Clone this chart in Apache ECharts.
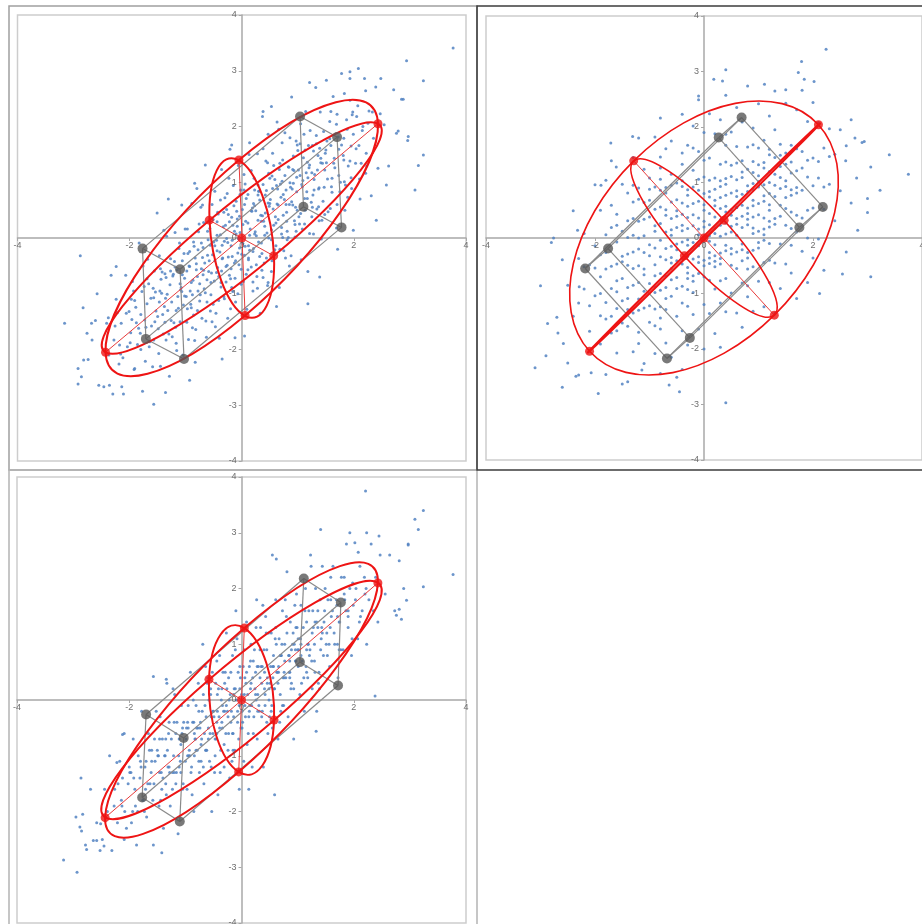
<!DOCTYPE html>
<html><head><meta charset="utf-8">
<script src="https://cdn.jsdelivr.net/npm/echarts@6/dist/echarts.min.js"></script>
<style>html,body{margin:0;padding:0;background:#fff}#c{width:922px;height:924px}</style>
</head><body><div id="c"></div>
<script>
// ---- shared topology & tick labels ----
const cubeEdges = [[0,2],[1,3],[4,6],[5,7],[0,1],[2,3],[4,5],[6,7],[0,4],[1,5],[2,6],[3,7]];
const ellipsePairs = [[0,2],[1,2],[0,1]]; // (a,c), (b,c), (a,b)
const xTickValues = [-4,-2,0,2,4];
const yTickValues = [-4,-3,-2,-1,0,1,2,3,4];

// ---- panel 1 (top-left) ----
const p1Center = [0,0];
const p1Vertices = [[1.04,2.18],[1.70,1.81],[1.10,0.56],[1.78,0.19],[-1.77,-0.19],[-1.10,-0.56],[-1.71,-1.81],[-1.03,-2.17]];
const p1AxisEnds = [[[-0.05,1.40],[0.06,-1.39]],[[-0.58,0.32],[0.57,-0.32]],[[-2.43,-2.05],[2.43,2.05]]];
const p1Dots = [[-2.92,-2.62],[-2.61,-1.48],[-2.74,-2.18],[-2.55,-2.64],[-2.83,-1.25],[-2.67,-1.83],
[-2.46,-2.67],[-2.41,-1.53],[-2.37,-2.10],[-2.33,-0.67],[-2.28,-1.83],[-2.24,-1.10],[-2.19,-2.26],[-2.15,-1.53],[-2.11,-2.80],[-2.07,-0.67],[-2.04,-1.95],[-2.22,-1.34],
[-1.98,-1.70],[-1.95,-0.78],[-1.92,-2.36],[-1.89,-1.24],[-1.86,-1.91],[-1.83,-0.09],[-1.80,-1.37],[-1.77,-2.75],[-1.74,-0.87],[-1.71,-1.60],[-1.68,-0.38],[-1.65,-1.95],[-1.62,-1.08],[-1.59,-2.31],[-1.56,-0.59],[-1.53,-1.31],[-1.51,0.45],[-1.97,-1.10],[-1.72,-2.21],[-1.58,-0.90],
[-1.49,-1.63],[-1.47,-0.32],[-1.45,-2.30],[-1.43,-0.99],[-1.41,-1.37],[-1.39,0.14],[-1.37,-0.64],[-1.35,-1.83],[-1.33,-1.01],[-1.31,0.70],[-1.29,-2.48],[-1.27,-0.37],[-1.25,-1.15],[-1.23,-0.68],[-1.21,-1.52],[-1.19,0.10],[-1.17,-1.89],[-1.15,-0.57],[-1.13,-1.26],[-1.11,-0.09],[-1.09,-0.93],[-1.07,0.59],[-1.05,-2.10],[-1.03,-0.28],[-1.44,-0.74],[-1.36,-1.08],[-1.18,-1.60],[-1.06,-0.66],
[-0.99,-1.05],[-0.97,0.16],[-0.95,-1.82],[-0.93,-0.51],[-0.91,-1.19],[-0.89,0.62],[-0.87,-0.76],[-0.85,-0.15],[-0.83,-2.23],[-0.81,-0.57],[-0.79,-1.30],[-0.77,0.11],[-0.75,-0.82],[-0.73,0.55],[-0.71,-1.44],[-0.69,-0.17],[-0.67,-0.91],[-0.65,1.31],[-0.63,-1.78],[-0.61,-0.31],[-0.59,-0.60],[-0.57,0.17],[-0.55,-1.02],[-0.53,0.60],[-0.51,-1.19],[-0.96,-0.28],[-0.88,-1.02],[-0.80,0.89],[-0.72,-0.55],[-0.64,-1.49],[-0.56,-0.13],[-0.68,0.28],[-0.84,-1.84],[-0.52,-0.30],
[-0.49,-0.77],[-0.48,0.84],[-0.46,-1.35],[-0.45,-0.04],[-0.43,-0.53],[-0.42,0.43],[-0.40,-1.80],[-0.39,-0.25],[-0.37,-0.88],[-0.36,1.23],[-0.34,-0.36],[-0.33,0.20],[-0.31,-1.09],[-0.30,0.72],[-0.28,-0.51],[-0.27,-0.01],[-0.25,-1.44],[-0.24,0.42],[-0.22,-0.67],[-0.21,1.59],[-0.19,-0.14],[-0.18,-0.89],[-0.16,0.23],[-0.15,0.94],[-0.13,-0.45],[-0.12,-1.79],[-0.10,0.07],[-0.09,0.48],[-0.07,-1.00],[-0.06,1.30],[-0.04,-0.18],[-0.03,0.78],[-0.01,-0.56],[-0.44,-0.23],[-0.35,-2.17],[-0.26,0.80],[-0.17,-0.33],[-0.08,0.34],
[0.01,0.51],[0.03,-0.78],[0.04,1.14],[0.06,-0.15],[0.07,0.30],[0.09,-1.28],[0.11,0.78],[0.12,-0.36],[0.14,1.71],[0.15,0.16],[0.17,-0.52],[0.19,0.54],[0.20,-0.95],[0.22,1.07],[0.23,0.07],[0.25,0.49],[0.27,-0.69],[0.28,1.51],[0.30,-0.07],[0.31,0.84],[0.33,-1.35],[0.34,0.41],[0.36,-0.28],[0.37,2.18],[0.39,0.30],[0.40,-0.45],[0.42,0.77],[0.43,1.38],[0.45,0.09],[0.46,-0.85],[0.48,1.16],[0.49,0.57],[0.05,-1.76],[0.13,1.50],[0.21,-0.19],[0.29,0.77],[0.38,-0.71],[0.47,1.86],
[0.51,0.69],[0.53,-0.60],[0.55,1.52],[0.57,0.23],[0.59,1.05],[0.61,-0.14],[0.63,2.08],[0.65,0.59],[0.67,-0.89],[0.69,0.97],[0.71,0.19],[0.73,1.40],[0.75,-0.23],[0.77,1.89],[0.79,0.60],[0.81,0.12],[0.83,1.28],[0.85,-0.50],[0.87,0.91],[0.89,2.53],[0.91,0.59],[0.93,1.21],[0.95,0.02],[0.97,1.74],[0.99,0.50],[0.54,1.11],[0.62,-1.23],[0.70,0.73],[0.78,-0.36],[0.86,1.80],[0.94,0.31],[0.66,1.95],[0.74,0.41],[0.98,1.09],
[1.02,0.38],[1.04,1.69],[1.06,-0.39],[1.08,0.92],[1.10,1.44],[1.12,0.25],[1.14,2.27],[1.16,0.83],[1.18,-0.60],[1.20,1.26],[1.22,1.93],[1.24,0.64],[1.26,1.66],[1.28,0.07],[1.30,1.14],[1.32,2.70],[1.34,0.52],[1.36,1.48],[1.38,0.90],[1.40,2.26],[1.42,-0.02],[1.44,1.34],[1.46,1.91],[1.48,0.42],[1.15,1.17],[1.27,0.77],[1.39,1.61],[1.05,2.05],
[1.51,1.35],[1.54,0.47],[1.57,2.09],[1.60,0.92],[1.63,2.54],[1.66,1.26],[1.69,0.18],[1.72,1.81],[1.75,0.83],[1.78,2.95],[1.81,1.48],[1.84,0.50],[1.87,2.12],[1.90,1.29],[1.93,2.47],[1.96,0.89],[1.99,1.86],[1.59,1.66],[1.71,-0.20],[1.83,2.59],
[2.03,1.34],[2.07,2.37],[2.11,0.70],[2.15,1.93],[2.19,2.86],[2.23,1.29],[2.27,2.28],[2.31,0.76],[2.35,1.79],[2.39,2.71],[2.43,1.25],[2.47,2.23],
[2.54,2.03],[2.62,1.29],[2.71,2.66],[2.79,1.92],[2.88,2.49],[2.96,1.75],
[3.77,3.41],[2.94,3.18],[3.24,2.82],[2.08,3.04],[1.93,2.98],[1.93,2.86],[1.51,2.83],[1.21,2.79],[2.48,2.86],[2.85,2.49],[2.21,2.64],[2.97,1.82],[3.24,1.49],[3.15,1.30],[3.09,0.86],[2.76,1.88],[2.58,0.95],[2.40,0.32],[1.99,0.14],[1.39,-0.70],[1.18,-1.18],[0.38,2.27],[0.53,2.36],[-0.18,1.67],[-0.84,0.98],[-2.88,-0.32],[-2.24,-0.51],[-2.58,-1.0],[-3.16,-1.53],[-2.68,-1.53],[-2.76,-1.71],[-2.92,-2.34],[-2.86,-2.49],[-2.36,-2.64],[-2.30,-2.80],[-2.14,-2.67],[-1.57,-2.98],[-1.36,-2.77],[-0.93,-2.55],[-1.91,-2.34],[-2.82,-2.19]];
const p1DotsCore = [[-1.93,-0.95],[-1.81,-1.71],[-1.76,-0.50],[-1.64,-1.86],[-1.57,-1.07],[-1.48,-2.07],[-1.42,-0.61],[-1.38,-1.23],[-1.34,0.03],[-1.26,-1.48],[-1.22,-0.65],[-1.16,-2.02],[-1.12,-0.19],[-1.08,-0.89],[-1.04,-1.20],[-1.01,0.16],[-0.98,-1.51],[-0.94,-0.50],[-0.92,-0.95],[-0.86,-0.07],[-0.82,-1.64],[-0.78,-0.21],[-0.74,-1.02],[-0.70,0.59],[-0.66,-0.45],[-0.62,-1.15],[-0.58,0.30],[-0.54,-0.63],[-0.50,-0.07],[-0.47,-1.59],[-0.44,0.29],[-0.41,-0.69],[-0.38,0.68],[-0.35,-0.13],[-0.32,-1.05],[-0.29,0.23],[-0.26,-0.49],[-0.23,1.07],[-0.20,-0.73],[-0.17,-0.04],[-0.14,0.58],[-0.11,-1.15],[-0.08,0.21],[-0.05,-0.48],[-0.02,0.86],[0.02,-0.10],[0.05,0.60],[0.08,-0.65],[0.11,0.27],[0.14,-0.22],[0.17,1.21],[0.20,-0.79],[0.23,0.58],[0.26,0.04],[0.29,0.95],[0.32,-0.33],[0.35,0.30],[0.38,1.60],[0.41,0.05],[0.44,0.85],[0.47,-0.80],[0.50,0.62],[0.53,-0.03],[0.57,1.30],[0.60,0.38],[0.64,0.88],[0.68,-0.20],[0.72,1.71],[0.76,0.69],[0.80,0.30],[0.84,1.27],[0.88,-0.32],[0.92,0.98],[0.96,0.55],[1.00,1.57],[1.03,0.25],[1.07,0.96],[1.11,1.86],[1.13,0.50],[1.17,1.36],[1.21,0.08],[1.25,1.17],[1.29,0.86],[1.33,1.69],[1.37,0.56],[1.41,1.43],[1.47,0.91],[1.52,1.74],[1.58,0.53],[1.64,1.34],[1.70,2.22],[1.76,1.00],[1.82,1.79],[1.89,0.73],[1.95,1.65],[2.05,2.18],[2.13,1.34],[2.25,2.06],
[-2.38,-1.43],[-2.16,-2.08],[-2.01,-1.32],[-1.88,-1.52],[-1.69,-0.73],[-1.55,-1.50],[-1.46,-0.95],[-1.30,-1.72],[-1.20,-0.42],[-1.10,-0.82],[-1.02,-1.04],[-0.90,-1.25],[-0.81,-0.46],[-0.76,0.25],[-0.69,-0.66],[-0.60,-0.03],[-0.56,-1.31],[-0.48,-0.41],[-0.43,0.46],[-0.37,-0.80],[-0.31,-0.06],[-0.24,-0.34],[-0.18,0.37],[-0.12,-0.72],[-0.06,-0.01],[0.00,-0.29],[0.06,0.97],[0.12,-0.39],[0.18,0.48],[0.24,0.11],[0.30,0.84],[0.36,-0.58],[0.42,0.45],[0.48,0.00],[0.55,0.89],[0.61,0.27],[0.67,1.23],[0.73,0.01],[0.79,0.86],[0.85,0.60],[0.91,1.23],[0.97,0.12],[1.04,1.12],[1.12,0.71],[1.19,1.66],[1.26,0.55],[1.35,1.22],[1.43,0.32],[1.50,1.58],[1.61,1.07],[1.73,1.59],[1.85,0.95],[1.97,2.21],[2.09,1.66],[2.21,1.16],[2.33,2.26]];
const p1DotsBand = [[-2.18,-1.92],[-2.06,-1.35],[-1.99,-1.88],[-1.91,-1.12],[-1.84,-1.62],[-1.78,-0.96],[-1.73,-1.47],[-1.66,-0.82],[-1.61,-1.58],[-1.54,-0.97],[-1.50,-1.41],[-1.45,-0.55],[-1.40,-1.72],[-1.35,-0.71],[-1.32,-1.30],[-1.28,-0.84],[-1.24,-1.77],[-1.19,-0.52],[-1.14,-1.05],[-1.10,-1.50],[-1.06,-0.41],[-1.02,-0.72],[-0.97,-1.27],[-0.93,-0.24],[-0.90,-0.80],[-0.86,-1.38],[-0.83,-0.36],[-0.79,-0.69],[-0.75,-1.13],[-0.72,-0.09],[-0.68,-0.58],[-0.65,-0.98],[-0.61,0.12],[-0.58,-0.41],[-0.55,-0.80],[-0.51,0.33],[-0.48,-0.14],[-0.45,-0.62],[-0.41,-1.12],[-0.38,0.06],[-0.35,-0.37],[-0.32,0.46],[-0.28,-0.79],[-0.25,-0.08],[-0.22,0.29],[-0.19,-0.55],[-0.16,-0.96],[-0.13,0.12],[-0.10,0.66],[-0.07,-0.27],[-0.04,0.39],[-0.01,-0.83],[0.02,0.24],[0.05,-0.31],[0.08,0.71],[0.11,-0.57],[0.14,0.05],[0.17,0.49],[0.20,-0.24],[0.23,0.86],[0.26,-0.48],[0.29,0.32],[0.32,0.68],[0.35,-0.09],[0.38,0.96],[0.41,0.21],[0.44,-0.36],[0.47,0.63],[0.50,1.07],[0.53,0.15],[0.56,0.52],[0.59,-0.21],[0.62,0.94],[0.65,0.33],[0.68,1.34],[0.71,0.07],[0.74,0.78],[0.77,1.12],[0.80,0.46],[0.83,0.01],[0.86,0.99],[0.89,0.65],[0.92,1.47],[0.95,0.24],[0.98,0.83],[1.01,1.22],[1.05,0.44],[1.09,1.03],[1.13,1.58],[1.17,0.71],[1.21,1.31],[1.25,0.38],[1.29,1.05],[1.33,1.84],[1.37,0.88],[1.41,1.35],[1.45,0.66],[1.49,1.52],[1.53,1.06],[1.57,1.78],[1.61,0.82],[1.65,1.43],[1.69,2.04],[1.73,1.12],[1.78,1.67],[1.83,1.01],[1.88,1.95],[1.93,1.38],[1.98,2.26],[2.04,1.60],[2.10,1.06],[2.16,2.00],[2.22,1.52],[-2.26,-1.58],[-2.12,-2.15],[-1.96,-1.46],[-1.80,-2.00],[-1.69,-1.18],[-1.57,-1.83],[-1.47,-1.15],[-1.37,-1.51],[-1.27,-0.59],[-1.17,-1.30],[-1.07,-0.96],[-0.98,-0.59],[-0.88,-1.61],[-0.78,-0.95],[-0.70,-0.35],[-0.62,-0.75],[-0.53,-1.50],[-0.44,0.05],[-0.36,-0.59],[-0.27,0.51],[-0.20,-1.27],[-0.11,-0.41],[-0.03,0.10],[0.04,0.86],[0.12,-0.14],[0.21,0.62],[0.28,-0.90],[0.37,0.40],[0.46,1.35],[0.54,-0.41],[0.63,0.61],[0.72,1.02],[0.81,-0.03],[0.90,0.88],[0.99,1.67],[1.08,0.16],[1.18,1.08],[1.28,1.56],[1.38,0.31],[1.48,1.22],[1.59,2.27],[1.70,0.60],[1.82,1.40],[1.95,1.08]];

// ---- panel 2 (top-right) ----
const p2Center = [0,0];
const p2Vertices = [[0.27,1.81],[0.69,2.17],[1.75,0.19],[2.18,0.56],[-2.18,-0.55],[-1.76,-0.19],[-0.68,-2.17],[-0.26,-1.80]];
const p2AxisEnds = [[[-1.29,1.39],[1.29,-1.39]],[[-0.36,-0.32],[0.37,0.32]],[[-2.10,-2.04],[2.10,2.04]]];
const p2Dots = [[-3.0,-0.86],[-2.9,-2.12],[-2.8,-0.08],[-2.7,-1.43],[-2.6,-0.39],[-2.6,-2.69],
[-2.5,-0.85],[-2.5,-2.25],[-2.4,0.49],[-2.4,-1.41],[-2.3,-0.37],[-2.3,-2.47],[-2.2,-0.92],[-2.2,0.08],[-2.1,-1.68],[-2.1,-0.48],[-2.0,-1.04],[-2.0,0.96],
[-1.9,-0.30],[-1.9,-1.91],[-1.9,0.50],[-1.8,-1.16],[-1.8,-0.56],[-1.8,-2.46],[-1.7,0.19],[-1.7,-1.41],[-1.7,1.39],[-1.6,-0.77],[-1.6,-0.07],[-1.6,-2.07],[-1.5,0.97],[-1.5,-1.13],[-1.5,-0.33],[-1.9,-1.00],[-1.8,1.04],[-1.7,-1.71],[-1.6,0.43],[-1.5,-2.63],
[-1.4,-0.49],[-1.4,-1.59],[-1.4,0.81],[-1.4,0.01],[-1.4,-2.59],[-1.3,-0.85],[-1.3,0.35],[-1.3,-2.05],[-1.3,1.45],[-1.3,-0.25],[-1.2,-1.10],[-1.2,0.70],[-1.2,-0.50],[-1.2,-1.70],[-1.2,1.80],[-1.1,0.04],[-1.1,-1.26],[-1.1,1.24],[-1.1,-0.66],[-1.1,-2.26],[-1.0,0.38],[-1.0,-0.82],[-1.0,0.68],[-1.0,-1.52],[-1.4,-1.09],[-1.3,0.95],[-1.2,0.00],[-1.1,-0.26],
[-0.9,-0.18],[-0.9,-1.28],[-0.9,0.92],[-0.9,-2.08],[-0.9,0.22],[-0.9,1.82],[-0.9,-0.68],[-0.8,0.56],[-0.8,-0.94],[-0.8,1.26],[-0.8,-1.64],[-0.8,-0.34],[-0.8,2.16],[-0.8,-2.44],[-0.7,0.11],[-0.7,-1.29],[-0.7,0.81],[-0.7,-0.69],[-0.7,1.61],[-0.7,-1.89],[-0.7,0.41],[-0.6,-0.45],[-0.6,1.15],[-0.6,-1.05],[-0.6,0.05],[-0.6,-2.15],[-0.6,1.75],[-0.6,0.65],[-0.5,-0.71],[-0.5,0.99],[-0.5,-1.41],[-0.5,-0.11],[-0.5,0.39],[-0.5,-2.51],
[-0.4,0.13],[-0.4,-0.87],[-0.4,1.33],[-0.4,-1.67],[-0.4,0.63],[-0.4,2.23],[-0.4,-0.37],[-0.4,-2.37],[-0.3,0.87],[-0.3,-1.23],[-0.3,-0.03],[-0.3,1.67],[-0.3,-0.63],[-0.3,0.37],[-0.3,-1.93],[-0.2,1.22],[-0.2,-0.38],[-0.2,0.62],[-0.2,-1.38],[-0.2,2.02],[-0.2,-0.08],[-0.2,-0.98],[-0.1,0.36],[-0.1,-0.64],[-0.1,1.56],[-0.1,-1.64],[-0.1,0.86],[-0.1,-0.14],[-0.1,2.56],[0.0,-0.40],[0.0,1.10],[0.0,-1.20],[0.0,0.20],[0.0,-2.00],[0.0,1.90],[-0.4,0.93],[-0.3,-0.93],[-0.2,1.62],
[0.1,-0.26],[0.1,0.74],[0.1,-1.36],[0.1,1.44],[0.1,0.04],[0.1,-0.76],[0.1,2.24],[0.2,0.58],[0.2,-0.92],[0.2,1.08],[0.2,-0.12],[0.2,1.88],[0.2,-1.72],[0.2,0.38],[0.3,-0.47],[0.3,1.33],[0.3,0.23],[0.3,-1.17],[0.3,2.13],[0.3,0.93],[0.3,0.03],[0.3,-1.97],[0.4,0.57],[0.4,-0.73],[0.4,1.67],[0.4,-0.23],[0.4,1.07],[0.4,-1.33],[0.4,2.57],[0.5,0.21],[0.5,1.31],[0.5,-0.49],[0.5,0.81],[0.5,-0.99],[0.5,1.91],[0.1,1.04],[0.2,-0.52],[0.4,0.27],
[0.6,0.55],[0.6,-0.55],[0.6,1.65],[0.6,-1.35],[0.6,1.05],[0.6,0.05],[0.6,2.35],[0.7,0.79],[0.7,-0.81],[0.7,1.39],[0.7,-0.11],[0.7,2.09],[0.7,-1.61],[0.7,0.39],[0.8,-0.26],[0.8,1.64],[0.8,0.54],[0.8,-1.06],[0.8,1.24],[0.8,2.74],[0.8,0.24],[0.9,0.98],[0.9,-0.52],[0.9,1.98],[0.9,0.08],[0.9,1.38],[0.9,-1.32],[0.9,0.68],[1.0,-0.08],[1.0,1.62],[1.0,0.42],[1.0,-0.78],[1.0,2.42],[1.0,1.12],
[1.1,0.66],[1.1,-0.44],[1.1,1.76],[1.1,0.16],[1.1,1.26],[1.1,-1.24],[1.2,1.00],[1.2,-0.10],[1.2,2.20],[1.2,-0.80],[1.2,0.50],[1.2,1.50],[1.3,0.35],[1.3,1.95],[1.3,-0.45],[1.3,1.15],[1.3,-1.35],[1.3,2.65],[1.4,0.89],[1.4,-0.11],[1.4,1.69],[1.4,-0.91],[1.4,1.49],[1.5,0.23],[1.5,1.33],[1.5,2.43],[1.5,-0.47],[1.5,0.73],
[1.6,0.47],[1.6,1.67],[1.6,-0.63],[1.6,1.17],[1.7,2.31],[1.7,0.11],[1.7,0.91],[1.7,-1.09],[1.8,1.56],[1.8,0.36],[1.8,2.66],[1.8,-0.24],[1.9,1.10],[1.9,2.10],[1.9,0.00],[1.9,-0.80],[2.0,1.44],[2.0,0.54],[2.0,2.44],[2.0,-0.36],
[2.1,1.08],[2.1,-0.02],[2.1,2.08],[2.2,0.52],[2.2,1.62],[2.2,-0.58],[2.3,0.97],[2.3,1.97],[2.4,0.31],[2.4,1.51],[2.5,0.85],[2.5,1.95],
[2.6,1.39],[2.7,0.63],[2.7,2.13],[2.8,1.08],[2.9,1.72],[3.0,0.46],
[2.24,3.40],[1.79,3.18],[1.73,2.98],[1.84,2.86],[2.02,2.82],[0.40,3.03],[0.18,2.86],[0.34,2.83],[1.50,2.67],[1.11,2.77],[-0.10,2.49],[3.40,1.50],[3.75,1.15],[3.23,0.86],[3.06,1.28],[2.94,1.74],[2.77,1.80],[2.61,1.66],[3.00,0.71],[2.82,0.14],[3.06,-0.70],[2.54,-0.65],[2.61,-0.25],[2.12,-1.0],[0.40,-2.97],[-0.45,-2.77],[-0.64,-2.65],[-1.14,-2.38],[-1.94,-2.80],[-2.35,-2.49],[-2.07,-2.43],[-3.10,-2.34],[-2.87,-1.54],[-2.68,-1.71],[-2.58,-1.90],[-2.76,0.0],[-2.32,0.14],[-2.29,-0.88],[-1.71,1.71],[-1.31,1.83],[-1.89,0.95],[-1.61,1.28]];
const p2DotsCore = [[-2.0,-0.54],[-1.9,-1.40],[-1.8,0.06],[-1.7,-0.91],[-1.6,-1.27],[-1.5,0.12],[-1.4,-0.29],[-1.3,-1.35],[-1.2,0.30],[-1.1,-0.96],[-1.0,-0.12],[-1.0,1.08],[-0.9,-0.88],[-0.9,0.52],[-0.8,-0.04],[-0.8,-1.24],[-0.7,0.51],[-0.7,-0.39],[-0.6,-0.75],[-0.6,0.35],[-0.5,0.69],[-0.5,-0.41],[-0.4,-0.07],[-0.4,-1.17],[-0.3,0.57],[-0.3,-0.33],[-0.2,0.22],[-0.2,-0.68],[-0.1,1.06],[-0.1,0.06],[0.0,-0.70],[0.0,0.50],[0.1,0.44],[0.1,-0.46],[0.2,0.88],[0.2,-0.32],[0.3,0.53],[0.3,-0.77],[0.4,0.07],[0.4,1.37],[0.5,-0.19],[0.5,0.51],[0.6,0.25],[0.6,1.35],[0.7,-0.41],[0.7,1.09],[0.8,0.84],[0.8,-0.56],[0.9,0.38],[0.9,1.68],[1.0,0.12],[1.0,0.92],[1.1,0.96],[1.1,-0.04],[1.2,0.20],[1.2,1.20],[1.3,0.75],[1.4,0.39],[1.4,1.29],[1.5,1.03],[1.6,0.87],[1.7,0.41],[1.8,1.26],[1.9,0.50],[-1.2,-0.80],[-1.1,0.64],[-0.9,-1.58],[-0.8,0.86],[-0.7,-1.09],[-0.6,-0.15],[-0.5,0.19],[-0.4,0.43],[-0.3,-0.53],[-0.2,0.92],[-0.1,-0.34],[0.0,0.80],[0.1,-0.06],[0.2,0.18],[0.3,-0.27],[0.4,0.77],[0.5,0.11],[0.6,0.75],[0.7,0.19],[0.8,0.44],[0.9,-0.22],[1.0,1.32],[1.1,0.36],[1.3,1.45],[1.5,0.53],[-1.6,-0.47],[-1.4,-0.89],[-1.3,0.05],[-1.5,-0.73],[1.6,1.37],[1.7,0.81],[1.2,0.60]];
const p2DotsBand = [[-2.3,-1.17],[-2.2,-0.52],[-2.1,-1.22],[-2.0,-0.14],[-1.9,-0.70],[-1.8,-1.46],[-1.8,-0.26],[-1.7,-0.51],[-1.7,0.59],[-1.6,-0.97],[-1.6,0.23],[-1.5,-0.43],[-1.5,-1.53],[-1.4,0.31],[-1.4,-1.29],[-1.3,-0.55],[-1.3,0.65],[-1.2,-0.20],[-1.2,-1.30],[-1.1,0.34],[-1.1,-0.56],[-1.0,-0.32],[-1.0,0.88],[-1.0,-1.22],[-0.9,0.12],[-0.9,-0.48],[-0.8,0.26],[-0.8,-0.64],[-0.8,1.06],[-0.7,-0.19],[-0.7,0.91],[-0.7,-0.89],[-0.6,0.15],[-0.6,-0.35],[-0.6,0.95],[-0.5,-0.21],[-0.5,0.49],[-0.5,-0.91],[-0.4,0.23],[-0.4,-0.47],[-0.4,1.03],[-0.3,0.17],[-0.3,-0.73],[-0.3,0.77],[-0.2,-0.18],[-0.2,0.42],[-0.2,-0.78],[-0.1,0.16],[-0.1,0.66],[-0.1,-0.44],[0.0,0.00],[0.0,0.60],[0.0,-0.50],[0.1,0.24],[0.1,-0.36],[0.1,0.84],[0.2,0.08],[0.2,0.68],[0.2,-0.42],[0.3,0.33],[0.3,1.03],[0.3,-0.37],[0.4,0.47],[0.4,-0.13],[0.4,0.97],[0.5,0.41],[0.5,-0.29],[0.5,1.11],[0.6,0.35],[0.6,0.85],[0.6,-0.25],[0.7,0.59],[0.7,-0.21],[0.7,1.19],[0.8,0.34],[0.8,0.94],[0.8,-0.36],[0.9,0.58],[0.9,1.18],[0.9,0.18],[1.0,0.62],[1.0,-0.18],[1.0,1.02],[1.1,0.76],[1.1,1.36],[1.1,0.06],[1.2,0.80],[1.2,0.30],[1.3,0.95],[1.3,0.25],[1.4,1.09],[1.4,0.59],[1.5,0.93],[1.5,1.53],[1.6,0.77],[1.6,0.17],[1.7,1.21],[1.7,1.61],[1.8,0.86],[1.9,1.40],[2.0,0.94],[2.1,1.38],[2.2,0.92],[2.3,1.47],[-0.9,-0.98],[-0.6,-0.55],[-0.3,-0.13],[0.0,0.30],[0.3,0.73],[0.6,0.55],[0.9,0.88],[1.2,1.60],[-1.2,0.90],[-0.8,1.46],[-0.4,1.53],[0.0,1.40],[0.4,1.87],[0.8,-0.86],[1.2,-0.40],[1.6,-0.13],[-1.6,-1.67],[-1.2,-1.90],[-0.8,-1.44]];

// ---- panel 3 (bottom-left) ----
const p3Center = [0,0];
const p3Vertices = [[1.11,2.18],[1.77,1.75],[1.04,0.68],[1.72,0.26],[-1.70,-0.26],[-1.03,-0.68],[-1.77,-1.75],[-1.10,-2.18]];
const p3AxisEnds = [[[0.05,1.29],[-0.05,-1.29]],[[-0.58,0.37],[0.58,-0.36]],[[-2.43,-2.11],[2.43,2.10]]];
const p3Dots = [[-2.95,-2.1],[-2.78,-2.6],[-2.69,-1.6],[-2.58,-2.2],[-2.86,-1.4],[-2.52,-2.7],
[-2.48,-2.5],[-2.44,-1.6],[-2.39,-2.0],[-2.35,-1.0],[-2.31,-2.7],[-2.26,-1.6],[-2.21,-2.2],[-2.17,-1.1],[-2.13,-1.9],[-2.09,-0.6],[-2.05,-2.3],[-2.02,-1.5],
[-1.99,-1.3],[-1.96,-2.2],[-1.93,-0.7],[-1.90,-1.6],[-1.87,-2.6],[-1.84,-1.0],[-1.81,-1.4],[-1.78,-0.2],[-1.75,-1.8],[-1.72,-1.2],[-1.69,-2.1],[-1.66,-0.6],[-1.63,-1.5],[-1.60,-0.9],[-1.57,-2.6],[-1.54,-1.1],[-1.52,-0.2],[-1.85,-2.0],[-1.70,-1.1],[-1.58,-1.8],
[-1.49,-1.0],[-1.47,-1.9],[-1.45,-0.3],[-1.43,-1.3],[-1.41,-0.7],[-1.39,-2.3],[-1.37,-1.0],[-1.35,-1.5],[-1.33,0.3],[-1.31,-1.2],[-1.29,-0.4],[-1.27,-1.9],[-1.25,-0.7],[-1.23,-1.3],[-1.21,-1.0],[-1.19,0.1],[-1.17,-1.5],[-1.15,-0.4],[-1.13,-2.4],[-1.11,-0.7],[-1.09,-1.1],[-1.07,-0.1],[-1.05,-1.6],[-1.03,-0.4],[-1.46,-0.7],[-1.34,-1.7],[-1.22,0.2],[-1.08,-1.3],
[-0.99,-0.7],[-0.97,-1.6],[-0.95,-0.1],[-0.93,-0.9],[-0.91,0.5],[-0.89,-1.2],[-0.87,-0.4],[-0.85,-2.0],[-0.83,-0.7],[-0.81,-0.1],[-0.79,-0.9],[-0.77,0.3],[-0.75,-1.3],[-0.73,-0.4],[-0.71,-0.7],[-0.69,1.0],[-0.67,-1.5],[-0.65,-0.1],[-0.63,-0.9],[-0.61,0.3],[-0.59,-0.5],[-0.57,-1.1],[-0.55,0.1],[-0.53,-2.0],[-0.51,-0.2],[-0.96,-0.4],[-0.88,-1.7],[-0.80,-0.5],[-0.72,-1.1],[-0.64,0.6],[-0.56,-0.6],[-0.68,0.1],[-0.84,-1.0],[-0.52,0.5],
[-0.49,-0.3],[-0.48,-1.3],[-0.46,0.3],[-0.45,-0.7],[-0.43,0.1],[-0.42,-1.7],[-0.40,-0.3],[-0.39,0.8],[-0.37,-0.9],[-0.36,0.0],[-0.34,-0.5],[-0.33,0.5],[-0.31,-1.2],[-0.30,0.3],[-0.28,-0.6],[-0.27,1.2],[-0.25,-0.2],[-0.24,-0.9],[-0.22,0.0],[-0.21,-1.4],[-0.19,0.5],[-0.18,-0.2],[-0.16,0.8],[-0.15,-0.6],[-0.13,0.2],[-0.12,-0.9],[-0.10,1.6],[-0.09,0.0],[-0.07,-0.4],[-0.06,0.5],[-0.04,-1.6],[-0.03,0.2],[-0.01,-0.5],[-0.44,0.7],[-0.35,-0.4],[-0.26,0.2],[-0.17,-1.1],[-0.08,1.1],
[0.01,-0.2],[0.03,0.6],[0.04,-1.1],[0.06,0.4],[0.07,-0.3],[0.09,1.4],[0.11,0.1],[0.12,-0.6],[0.14,0.6],[0.15,-0.1],[0.17,1.0],[0.19,-1.2],[0.20,0.4],[0.22,-0.3],[0.23,0.9],[0.25,0.1],[0.27,1.8],[0.28,-0.7],[0.30,0.6],[0.31,-0.1],[0.33,0.4],[0.34,1.3],[0.36,-0.3],[0.37,0.6],[0.39,-1.2],[0.40,0.9],[0.42,0.1],[0.43,1.5],[0.45,-0.4],[0.46,0.4],[0.48,1.2],[0.49,0.0],[0.05,0.9],[0.13,-1.6],[0.21,0.7],[0.29,-0.2],[0.38,1.7],[0.47,-0.6],
[0.51,0.3],[0.53,1.2],[0.55,-0.5],[0.57,0.8],[0.59,0.2],[0.61,1.8],[0.63,0.5],[0.65,-0.7],[0.67,1.1],[0.69,0.1],[0.71,0.8],[0.73,1.6],[0.75,-0.1],[0.77,1.0],[0.79,0.4],[0.81,2.3],[0.83,-0.3],[0.85,0.8],[0.87,1.4],[0.89,0.3],[0.91,1.0],[0.93,-0.7],[0.95,1.7],[0.97,0.7],[0.99,1.3],[0.54,-0.1],[0.62,1.0],[0.70,-0.2],[0.78,1.8],[0.86,0.4],[0.94,1.0],[0.66,0.5],[0.74,0.4],[0.98,1.9],
[1.02,0.9],[1.04,0.1],[1.06,1.7],[1.08,0.7],[1.10,1.3],[1.12,-0.2],[1.14,2.0],[1.16,0.9],[1.18,0.4],[1.20,1.6],[1.22,0.9],[1.24,2.4],[1.26,0.2],[1.28,1.3],[1.30,0.7],[1.32,2.0],[1.34,-0.2],[1.36,1.3],[1.38,0.5],[1.40,1.8],[1.42,1.1],[1.44,2.4],[1.46,0.8],[1.48,1.6],[1.15,0.6],[1.27,1.6],[1.39,0.2],[1.05,1.1],
[1.51,1.0],[1.54,1.8],[1.57,0.6],[1.60,1.5],[1.63,2.4],[1.66,1.0],[1.69,1.8],[1.72,0.4],[1.75,1.4],[1.78,2.2],[1.81,0.9],[1.84,1.8],[1.87,2.8],[1.90,1.3],[1.93,2.0],[1.96,0.8],[1.99,1.7],[1.59,2.2],[1.71,1.0],[1.83,2.2],
[2.03,1.8],[2.07,1.1],[2.11,2.4],[2.15,1.6],[2.19,2.2],[2.23,1.0],[2.27,1.8],[2.31,2.8],[2.35,1.6],[2.39,2.2],[2.43,1.4],[2.47,2.6],
[2.56,1.9],[2.64,2.6],[2.73,1.6],[2.81,2.5],[2.89,2.0],[2.97,2.8],
[2.21,3.75],[3.24,3.40],[3.09,3.24],[3.15,3.06],[2.97,2.78],[2.45,2.94],[2.23,3.00],[1.93,3.00],[2.02,2.82],[2.08,2.65],[1.41,3.06],[1.23,2.60],[0.55,2.60],[0.62,2.53],[3.77,2.25],[3.24,2.03],[2.94,1.79],[2.81,1.63],[2.85,1.45],[2.76,1.52],[2.38,0.07],[1.33,-0.56],[0.59,-1.70],[-1.57,0.42],[-1.34,0.37],[-2.12,-0.62],[-2.22,-1.12],[-2.83,-2.05],[-2.88,-2.28],[-2.85,-2.35],[-2.76,-2.68],[-2.64,-2.52],[-2.58,-2.52],[-2.45,-2.62],[-3.17,-2.87],[-2.93,-3.09],[-1.42,-2.74],[-2.51,-2.22],[-2.09,-2.50]];
const p3DotsCore = [[-2.12,-1.4],[-1.94,-2.0],[-1.79,-1.2],[-1.67,-1.5],[-1.55,-0.7],[-1.44,-1.8],[-1.36,-1.0],[-1.28,-1.3],[-1.20,-0.4],[-1.12,-1.0],[-1.04,-1.5],[-0.98,-0.5],[-0.92,-1.0],[-0.86,0.0],[-0.82,-0.7],[-0.76,-1.1],[-0.70,-0.2],[-0.66,-0.6],[-0.60,0.4],[-0.54,-1.2],[-0.50,-0.2],[-0.47,-0.7],[-0.41,0.2],[-0.38,-1.3],[-0.32,-0.2],[-0.29,0.5],[-0.23,-0.6],[-0.20,0.1],[-0.14,-0.3],[-0.11,0.9],[-0.05,-0.7],[-0.02,0.4],[0.02,-0.4],[0.08,0.3],[0.10,-0.8],[0.16,0.7],[0.18,-0.1],[0.24,0.2],[0.26,1.3],[0.32,-0.2],[0.35,0.6],[0.41,0.2],[0.44,1.2],[0.50,-0.3],[0.52,0.6],[0.58,0.2],[0.60,1.1],[0.64,0.5],[0.68,-0.4],[0.72,1.0],[0.76,0.4],[0.80,1.5],[0.84,0.8],[0.88,0.2],[0.92,1.2],[0.96,0.7],[1.01,1.1],[1.07,0.3],[1.13,1.6],[1.19,1.0],[1.25,0.7],[1.31,1.4],[1.37,0.3],[1.43,1.3],[1.49,2.0],[1.56,1.0],[1.62,1.6],[1.74,0.9],[1.86,1.6],[1.98,2.1],[2.10,1.4],[2.22,2.0],
[-2.27,-1.9],[-2.00,-1.2],[-1.73,-2.0],[-1.61,-1.3],[-1.50,-0.9],[-1.40,-1.4],[-1.30,-0.6],[-1.16,-1.3],[-1.06,-0.6],[-0.94,-1.0],[-0.78,-0.5],[-0.62,-0.9],[-0.58,0.0],[-0.44,-0.6],[-0.30,-0.2],[-0.16,-0.6],[0.00,0.1],[0.14,-0.2],[0.28,0.6],[0.42,-0.1],[0.56,0.6],[0.70,0.8],[0.86,0.5],[1.00,0.9],[1.16,0.5],[1.34,1.4],[1.52,1.2],[1.70,1.7]];
const p3DotsBand = [[-2.20,-1.5],[-2.08,-2.0],[-1.97,-1.3],[-1.89,-1.9],[-1.80,-1.1],[-1.71,-1.6],[-1.64,-0.9],[-1.56,-1.5],[-1.48,-1.0],[-1.42,-1.6],[-1.35,-0.7],[-1.29,-1.2],[-1.23,-1.6],[-1.17,-0.6],[-1.11,-1.2],[-1.05,-0.5],[-1.00,-1.1],[-0.95,-0.5],[-0.90,-1.3],[-0.85,-0.4],[-0.81,-0.9],[-0.76,-0.2],[-0.72,-0.8],[-0.68,-1.2],[-0.63,-0.3],[-0.59,-0.7],[-0.55,0.2],[-0.51,-0.6],[-0.47,-1.0],[-0.43,-0.2],[-0.39,-0.5],[-0.35,0.2],[-0.31,-0.8],[-0.27,-0.1],[-0.23,0.4],[-0.19,-0.4],[-0.15,-0.9],[-0.11,0.2],[-0.07,-0.2],[-0.03,0.6],[0.01,-0.5],[0.05,0.1],[0.09,0.5],[0.13,-0.3],[0.17,0.3],[0.21,-0.6],[0.25,0.5],[0.29,0.1],[0.33,0.9],[0.37,-0.2],[0.41,0.5],[0.45,0.9],[0.49,0.2],[0.53,-0.2],[0.57,0.6],[0.61,1.3],[0.65,0.3],[0.69,0.8],[0.73,-0.1],[0.77,0.7],[0.81,1.2],[0.85,0.5],[0.89,0.9],[0.93,0.2],[0.97,1.3],[1.01,0.6],[1.06,1.0],[1.11,0.4],[1.16,1.4],[1.21,0.8],[1.26,1.2],[1.31,0.5],[1.36,1.6],[1.41,0.9],[1.47,1.4],[1.53,0.8],[1.59,1.8],[1.65,1.2],[1.71,1.5],[1.77,0.9],[1.83,1.9],[1.90,1.5],[1.97,1.1],[2.04,2.0],[2.12,1.5],[2.20,1.9],[-2.14,-1.8],[-1.92,-1.4],[-1.76,-1.8],[-1.60,-1.1],[-1.46,-1.3],[-1.32,-0.9],[-1.20,-1.3],[-1.08,-0.8],[-0.96,-1.0],[-0.84,-0.6],[-0.74,-0.5],[-0.64,-0.9],[-0.54,-0.3],[-0.44,-0.4],[-0.34,-0.1],[-0.24,-0.3],[-0.14,0.1],[-0.04,-0.1],[0.06,-0.1],[0.16,0.2],[0.26,0.0],[0.36,0.3],[0.46,0.3],[0.56,0.4],[0.66,0.6],[0.76,0.5],[0.86,0.7],[0.96,0.9],[1.06,0.8],[1.18,1.0],[1.30,1.0],[1.44,1.2],[1.58,1.3],[1.74,1.4],[1.90,1.6]];

// ---- styles / layout ----
const RED = '#ee1414';
const panelStyles = [
  {ellWidths:[2,2,2], axisW:1, edgeW:1.2},
  {ellWidths:[1.6,2,1.6], axisW:1, edgeW:1.2},
  {ellWidths:[2,2,2], axisW:1, edgeW:1.2}
];
const grids = [
  {left:17.5, top:15, width:448.5, height:446},
  {left:486, top:16, width:436, height:444},
  {left:17, top:477, width:449, height:446}
];
const labelStyle = {fontSize:9, color:'#4a4a4a', fontFamily:'Liberation Sans, Arial, sans-serif'};

function lineRenderer(color, w) {
  return function (params, api) {
    const a = api.coord([api.value(0), api.value(1)]);
    const b = api.coord([api.value(2), api.value(3)]);
    return {type:'line', shape:{x1:a[0], y1:a[1], x2:b[0], y2:b[1]}, style:{stroke:color, lineWidth:w, fill:null}};
  };
}
function ellipseRenderer(widths) {
  return function (params, api) {
    const cx = api.value(0), cy = api.value(1);
    const c = api.coord([cx, cy]);
    const pu = api.coord([cx + api.value(2), cy + api.value(3)]);
    const pv = api.coord([cx + api.value(4), cy + api.value(5)]);
    const ux = pu[0]-c[0], uy = pu[1]-c[1], vx = pv[0]-c[0], vy = pv[1]-c[1];
    const k = 0.5523;
    const P = (a, b) => (c[0]+a*ux+b*vx).toFixed(2) + ' ' + (c[1]+a*uy+b*vy).toFixed(2);
    const d = 'M' + P(1,0) +
      ' C' + P(1,k) + ' ' + P(k,1) + ' ' + P(0,1) +
      ' C' + P(-k,1) + ' ' + P(-1,k) + ' ' + P(-1,0) +
      ' C' + P(-1,-k) + ' ' + P(-k,-1) + ' ' + P(0,-1) +
      ' C' + P(k,-1) + ' ' + P(1,-k) + ' ' + P(1,0) + ' Z';
    return {type:'path', shape:{pathData:d}, style:{fill:'none', stroke:RED, lineWidth:widths[params.dataIndex]}};
  };
}

const panels = [
  [p1Dots.concat(p1DotsCore, p1DotsBand), p1Vertices, p1AxisEnds, p1Center],
  [p2Dots.concat(p2DotsCore, p2DotsBand), p2Vertices, p2AxisEnds, p2Center],
  [p3Dots.concat(p3DotsCore, p3DotsBand), p3Vertices, p3AxisEnds, p3Center]
];

const series = [];
panels.forEach(([dots, verts, ends, center], k) => {
  const st = panelStyles[k];
  const ax = {xAxisIndex:k, yAxisIndex:k};
  series.push(Object.assign({type:'scatter', data:dots, symbolSize:3, itemStyle:{color:'#5282c2', opacity:0.85}, silent:true, z:1}, ax));
  const edges = cubeEdges.map(([i, j]) => [verts[i][0], verts[i][1], verts[j][0], verts[j][1]]);
  series.push(Object.assign({type:'custom', coordinateSystem:'cartesian2d', data:edges, renderItem:lineRenderer('#8a8a8a', st.edgeW), silent:true, z:2}, ax));
  const axisLines = ends.map(e => [e[0][0], e[0][1], e[1][0], e[1][1]]);
  series.push(Object.assign({type:'custom', coordinateSystem:'cartesian2d', data:axisLines, renderItem:lineRenderer('#e83a3a', st.axisW), silent:true, z:3}, ax));
  const semi = ends.map(e => [(e[1][0]-e[0][0])/2, (e[1][1]-e[0][1])/2]);
  const ells = ellipsePairs.map(([i, j]) => [center[0], center[1], semi[i][0], semi[i][1], semi[j][0], semi[j][1]]);
  series.push(Object.assign({type:'custom', coordinateSystem:'cartesian2d', data:ells, renderItem:ellipseRenderer(st.ellWidths), silent:true, z:4}, ax));
  series.push(Object.assign({type:'scatter', data:verts, symbolSize:10, itemStyle:{color:'#575757'}, silent:true, z:5}, ax));
  const reds = [].concat(ends[0], ends[1], ends[2], [center]);
  series.push(Object.assign({type:'scatter', data:reds, symbolSize:9, itemStyle:{color:RED}, silent:true, z:6}, ax));
  // tick labels placed along the zero axes
  series.push(Object.assign({type:'scatter', data:xTickValues.map(v => [v, 0]), symbolSize:0.1, itemStyle:{color:'rgba(0,0,0,0)'}, silent:true, z:7,
    label:Object.assign({show:true, position:'bottom', distance:3, formatter:p => String(p.value[0])}, labelStyle)}, ax));
  series.push(Object.assign({type:'scatter', data:yTickValues.map(v => [0, v]), symbolSize:0.1, itemStyle:{color:'rgba(0,0,0,0)'}, silent:true, z:7,
    label:Object.assign({show:true, position:'left', distance:5, formatter:p => String(p.value[1])}, labelStyle)}, ax));
});

const axisBase = {
  type:'value', min:-4, max:4,
  axisLine:{onZero:true, lineStyle:{color:'#a8a8a8', width:1.5}},
  axisTick:{show:true, length:3, lineStyle:{color:'#a8a8a8'}},
  axisLabel:{show:false},
  splitLine:{show:false}
};
const xAxes = [0,1,2].map(k => Object.assign({}, axisBase, {gridIndex:k, interval:2}));
const yAxes = [0,1,2].map(k => Object.assign({}, axisBase, {gridIndex:k, interval:1}));

const chart = echarts.init(document.getElementById('c'), null, {renderer:'canvas'});
chart.setOption({
  animation:false,
  backgroundColor:'#ffffff',
  grid: grids.map(g => Object.assign({show:true, borderColor:'#cdcdcd', borderWidth:1.5, backgroundColor:'transparent', containLabel:false}, g)),
  xAxis: xAxes,
  yAxis: yAxes,
  graphic: [
    {type:'rect', silent:true, z:-10, shape:{x:9, y:6, width:468, height:464}, style:{fill:'none', stroke:'#a0a0a0', lineWidth:1.5}},
    {type:'rect', silent:true, z:-10, shape:{x:9, y:470, width:468, height:462}, style:{fill:'none', stroke:'#b4b4b4', lineWidth:1.5}},
    {type:'rect', silent:true, z:10, shape:{x:477, y:6, width:460, height:464}, style:{fill:'none', stroke:'#3c3c3c', lineWidth:1.5}}
  ],
  series: series
});
</script>
</body></html>
